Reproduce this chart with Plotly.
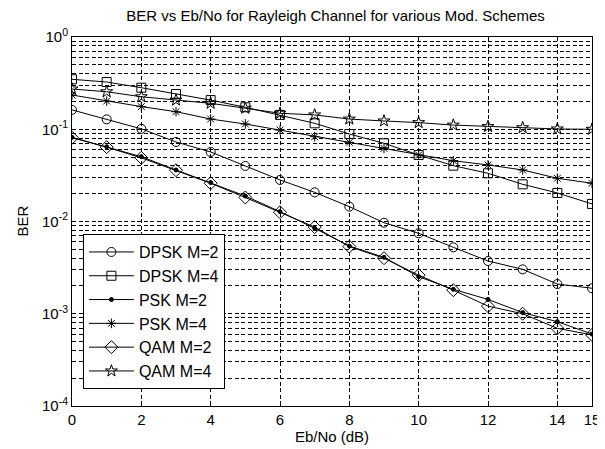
import plotly.graph_objects as go

ebno = list(range(16))

dpsk2 = [0.162, 0.128, 0.101, 0.0728, 0.0567, 0.040, 0.0282, 0.0207, 0.0145,
         0.0097, 0.00745, 0.00525, 0.00373, 0.00303, 0.0021, 0.00189]
dpsk4 = [0.348, 0.325, 0.282, 0.241, 0.207, 0.173, 0.143, 0.116, 0.0888,
         0.0704, 0.0526, 0.0403, 0.0333, 0.0253, 0.0204, 0.0155]
psk2 = [0.0817, 0.0647, 0.0504, 0.0362, 0.0264, 0.0189, 0.0128, 0.00844, 0.00542,
        0.00409, 0.00252, 0.00184, 0.00143, 0.00103, 0.00082, 0.000603]
psk4 = [0.235, 0.202, 0.176, 0.155, 0.129, 0.114, 0.098, 0.083, 0.0722,
        0.062, 0.0526, 0.0456, 0.041, 0.0362, 0.0294, 0.026]
qam2 = [0.0810, 0.0640, 0.0490, 0.0360, 0.0260, 0.0182, 0.0126, 0.0087, 0.00535,
        0.00400, 0.00262, 0.00180, 0.00121, 0.00100, 0.000695, 0.000590]
qam4 = [0.273, 0.255, 0.225, 0.207, 0.191, 0.169, 0.149, 0.143, 0.129,
        0.123, 0.118, 0.111, 0.107, 0.104, 0.1007, 0.100]

series = [
    ("DPSK M=2", dpsk2, "circle-open", 9),
    ("DPSK M=4", dpsk4, "square-open", 9),
    ("PSK M=2", psk2, "circle", 4),
    ("PSK M=4", psk4, "asterisk-open", 8),
    ("QAM M=2", qam2, "diamond-open", 10),
    ("QAM M=4", qam4, "star-open", 9),
]

decades = [1e-4, 1e-3, 1e-2, 1e-1, 1e0]
dec_labels = ["10<sup>-4</sup>", "10<sup>-3</sup>", "10<sup>-2</sup>",
              "10<sup>-1</sup>", "10<sup>0</sup>"]
xticks = [0, 2, 4, 6, 8, 10, 12, 14, 15]

fig = go.Figure()
for name, vals, sym, sz in series:
    fig.add_trace(go.Scatter(
        x=ebno, y=vals, name=name, mode="lines+markers",
        line=dict(color="black", width=1),
        marker=dict(symbol=sym, size=sz, color="black",
                    line=dict(color="black", width=1)),
    ))

yvals, ytext = [], []
for d, lab in zip(decades, dec_labels):
    for k in range(1, 10):
        v = d * k
        if v > 1.0001:
            break
        yvals.append(v)
        ytext.append(lab if k == 1 else "")

font = "Liberation Sans, Arial, Helvetica, sans-serif"
# page body has an 8px margin, so the figure is sized/offset to compensate
fig.update_layout(
    width=597, height=441,
    margin=dict(l=64, r=13, t=29, b=43),
    paper_bgcolor="white", plot_bgcolor="white",
    font=dict(family=font, size=15, color="black"),
    title=dict(text="BER vs Eb/No for Rayleigh Channel for various Mod. Schemes",
               x=0.5486, xanchor="center", y=0.982, yanchor="middle",
               font=dict(size=15)),
    showlegend=True,
    legend=dict(x=0.021, y=0.466, xanchor="left", yanchor="top",
                bgcolor="white", bordercolor="black", borderwidth=1,
                font=dict(size=16), tracegroupgap=0, itemwidth=45),
    annotations=[dict(text="BER", xref="paper", yref="paper",
                      x=-0.096, y=0.5, xanchor="center", yanchor="middle",
                      textangle=-90, showarrow=False, font=dict(size=15))],
)
fig.update_xaxes(
    range=[0, 15], tickvals=xticks, ticktext=[str(t) for t in xticks],
    showgrid=True, gridcolor="black", griddash="4px,2.5px", gridwidth=0.7,
    showline=True, linecolor="black", linewidth=1, mirror=True,
    ticks="inside", ticklen=4, tickcolor="black", zeroline=False,
    automargin=False, ticklabeloverflow="allow",
    title=dict(text="Eb/No (dB)", standoff=2, font=dict(size=15)),
)
fig.update_yaxes(
    type="log", range=[-4, 0], tickvals=yvals, ticktext=ytext,
    showgrid=True, gridcolor="black", griddash="4px,2.5px", gridwidth=0.7,
    showline=True, linecolor="black", linewidth=1, mirror=True,
    ticks="", zeroline=False, automargin=False,
)
fig.write_html("out.html")
